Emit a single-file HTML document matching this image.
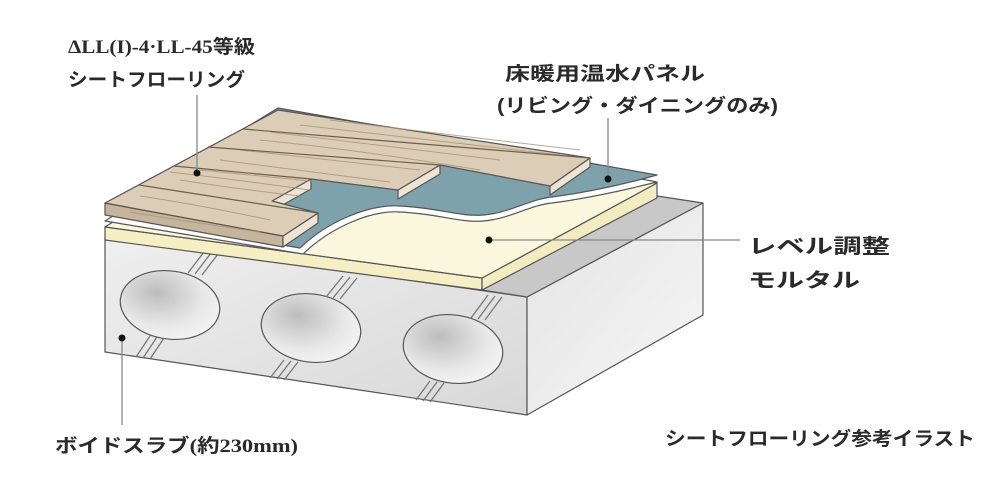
<!DOCTYPE html>
<html><head><meta charset="utf-8"><style>
html,body{margin:0;padding:0;background:#fff;width:1000px;height:500px;overflow:hidden}
svg{display:block}
text{font-family:"Liberation Serif","Noto Sans CJK JP",serif;font-weight:bold;fill:#2a2a2a}
.j{font-family:"Liberation Sans","Noto Sans CJK JP",sans-serif;font-weight:bold}
</style></head><body>
<svg width="1000" height="500" viewBox="0 0 1000 500">
<defs>
<linearGradient id="fr" x1="0" y1="0" x2="1" y2="1"><stop offset="0" stop-color="#efefef"/><stop offset="1" stop-color="#d8d8d8"/></linearGradient>
<linearGradient id="rf" x1="0" y1="0" x2="1" y2="1"><stop offset="0" stop-color="#e4e4e4"/><stop offset="1" stop-color="#f6f6f6"/></linearGradient>
<radialGradient id="vo" cx="0.35" cy="0.35" r="0.8"><stop offset="0" stop-color="#bdbdbd"/><stop offset="0.6" stop-color="#e8e8e8"/><stop offset="1" stop-color="#f8f8f8"/></radialGradient>
</defs>
<g stroke="#555" stroke-width="1.2" stroke-linejoin="round">
<!-- concrete -->
<polygon points="105,237 527,297 527,415 105,352" fill="url(#fr)"/>
<polygon points="527,297 703,203 703,315 527,415" fill="url(#rf)"/>
<polygon points="482,290 527,297 703,203 657,196" fill="#c8c8c8"/>
<!-- voids -->
<ellipse cx="170" cy="305" rx="50" ry="34" transform="rotate(8 170 305)" fill="url(#vo)"/>
<ellipse cx="311" cy="328" rx="50" ry="34" transform="rotate(8 311 328)" fill="url(#vo)"/>
<ellipse cx="453" cy="349" rx="50" ry="34" transform="rotate(8 453 349)" fill="url(#vo)"/>
</g>
<g stroke="#777" stroke-width="1.3" fill="none">
<path d="M188,273 L204,252 M195,274 L211,253 M202,275 L218,254"/>
<path d="M136,357 L150,336 M143,358 L157,337 M150,359 L164,338"/>
<path d="M326,297 L343,276 M333,298 L350,277 M340,299 L357,278"/>
<path d="M270,378 L284,360 M277,379 L291,361 M284,380 L298,362"/>
<path d="M471,318 L488,295 M478,319 L495,296 M485,320 L502,297"/>
<path d="M416,400 L430,381 M423,401 L437,382 M430,402 L444,383"/>
</g>
<g stroke="#555" stroke-width="1.2" stroke-linejoin="round">
<!-- mortar -->
<polygon points="105,227 482,278 482,290 105,240" fill="#f6efc4"/>
<polygon points="482,278 657,183 657,198 482,290" fill="#f3ecc0"/>
<polygon points="105,227 482,278 657,183 278,118" fill="#fbf7dc"/>
<!-- white layer -->
<path d="M105,221 L303,254 C330,228 370,210 400,212 C440,214 460,223 483,221 C510,219 530,205 552,203 C590,198 625,190 657,182 L278,112 Z" fill="#fff"/>
<!-- blue panel -->
<path d="M105,214 L300,248 C327,222 368,204 400,206 C440,208 460,217 483,215 C510,213 530,199 552,197 C590,192 625,184 657,175 L278,108 Z" fill="#7ea2ab"/>
<!-- wood front/end faces -->
<polygon points="105,203 283,236 283,247 105,215" fill="#c7b59b"/>
<polygon points="283,236 318,213 318,223 283,247" fill="#ede4d3"/>
<polygon points="272,201 311,179 311,189 272,211" fill="#ede4d3"/>
<polygon points="398,190 440,165 440,174 398,199" fill="#ede4d3"/>
<polygon points="550,186 590,158 590,167 550,195" fill="#ede4d3"/>
<!-- wood top -->
<polygon points="105,203 283,236 318,213 272,201 311,179 398,190 440,165 550,186 590,158 278,110" fill="#dccdb6"/>
</g>
<g stroke="#a8957a" stroke-width="1" fill="none" opacity="0.8">
<path d="M140,196 Q200,205 270,220 M130,212 Q190,222 260,232 M180,180 Q230,188 300,196 M170,172 Q240,180 310,190"/>
<path d="M220,160 Q300,170 390,182 M240,150 Q330,160 420,170 M200,170 Q260,176 330,183"/>
<path d="M270,132 Q380,145 500,160 M300,125 Q400,137 560,155 M260,140 Q360,150 480,170 M330,120 Q450,135 580,150"/>
</g>
<g stroke="#6e5f4a" stroke-width="1.2" fill="none">
<path d="M139,185 L318,213"/>
<path d="M174,166 L311,179"/>
<path d="M208,147 L440,165"/>
<path d="M243,129 L590,158"/>
</g>
<!-- leaders -->
<g stroke="#888" stroke-width="1.3">
<line x1="197" y1="95" x2="197" y2="173"/>
<line x1="608" y1="118" x2="608" y2="179"/>
<line x1="489" y1="240" x2="740" y2="240"/>
<line x1="122" y1="338" x2="122" y2="425"/>
</g>
<g fill="#111">
<circle cx="197" cy="173" r="3.5"/>
<circle cx="608" cy="179" r="3.5"/>
<circle cx="489" cy="240" r="3.5"/>
<circle cx="122" cy="338" r="3.5"/>
</g>
<!-- labels -->
<text x="68" y="53" font-size="19" textLength="187" lengthAdjust="spacingAndGlyphs">ΔLL(I)-4·LL-45等級</text>
<text class="j" x="68" y="86" font-size="19" textLength="177" lengthAdjust="spacingAndGlyphs">シートフローリング</text>
<text class="j" x="505" y="80" font-size="19" textLength="200" lengthAdjust="spacingAndGlyphs">床暖用温水パネル</text>
<text class="j" x="497" y="112" font-size="19" textLength="281" lengthAdjust="spacingAndGlyphs">(リビング・ダイニングのみ)</text>
<text class="j" x="748" y="253" font-size="20" textLength="142" lengthAdjust="spacingAndGlyphs">レベル調整</text>
<text class="j" x="748" y="287" font-size="20" textLength="112" lengthAdjust="spacingAndGlyphs">モルタル</text>
<text x="55" y="452" font-size="19" textLength="243" lengthAdjust="spacingAndGlyphs">ボイドスラブ(約230mm)</text>
<text class="j" x="665" y="445" font-size="19" textLength="310" lengthAdjust="spacingAndGlyphs">シートフローリング参考イラスト</text>
</svg>
</body></html>
